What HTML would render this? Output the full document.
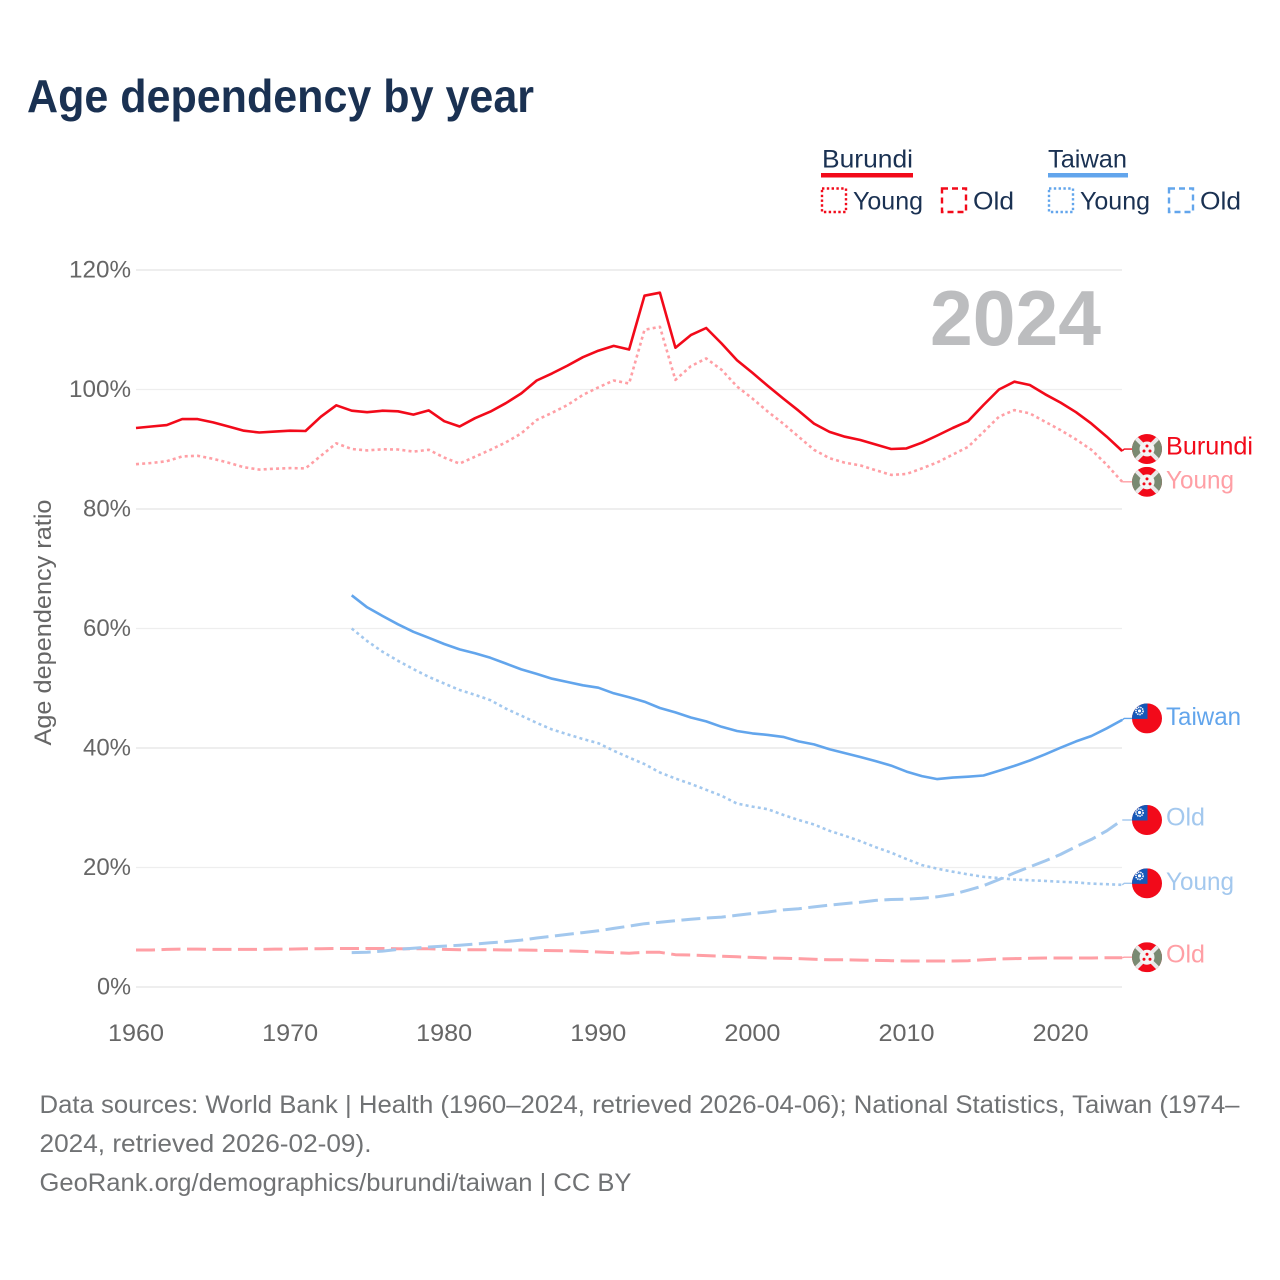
<!DOCTYPE html>
<html lang="en">
<head>
<meta charset="utf-8">
<title>Age dependency by year</title>
<style>
html,body{margin:0;padding:0;background:#fff;}
svg{display:block;}
text{font-family:"Liberation Sans",sans-serif;}
</style>
</head>
<body>
<svg id="chart" xmlns="http://www.w3.org/2000/svg" width="1280" height="1280" viewBox="0 0 1280 1280">
  <rect x="0" y="0" width="1280" height="1280" fill="#fff"/>
  <text x="27" y="112" font-size="46" font-weight="700" fill="#1a3152" textLength="507" lengthAdjust="spacingAndGlyphs">Age dependency by year</text>

  <g fill="#1a3152" font-size="25">
    <g>
      <text x="822" y="167.5" textLength="91" lengthAdjust="spacingAndGlyphs">Burundi</text>
      <rect x="821" y="173" width="92" height="4.5" fill="#f20a1a"/>
      <rect x="822" y="188.5" width="24" height="23.5" fill="none" stroke="#f20a1a" stroke-width="2.4" stroke-dasharray="2.4 2.4"/>
      <text x="853" y="209.5" textLength="70" lengthAdjust="spacingAndGlyphs">Young</text>
      <rect x="942" y="188.5" width="24" height="23.5" fill="none" stroke="#f20a1a" stroke-width="2.4" stroke-dasharray="6 4"/>
      <text x="973" y="209.5" textLength="41" lengthAdjust="spacingAndGlyphs">Old</text>
    </g>
    <g>
      <text x="1048" y="167.5" textLength="79" lengthAdjust="spacingAndGlyphs">Taiwan</text>
      <rect x="1048" y="173" width="80" height="4.5" fill="#62a5ec"/>
      <rect x="1049" y="188.5" width="24" height="23.5" fill="none" stroke="#62a5ec" stroke-width="2.4" stroke-dasharray="2.4 2.4"/>
      <text x="1080" y="209.5" textLength="70" lengthAdjust="spacingAndGlyphs">Young</text>
      <rect x="1169" y="188.5" width="24" height="23.5" fill="none" stroke="#62a5ec" stroke-width="2.4" stroke-dasharray="6 4"/>
      <text x="1200" y="209.5" textLength="41" lengthAdjust="spacingAndGlyphs">Old</text>
    </g>
  </g>

  <text transform="translate(51,622.5) rotate(-90)" text-anchor="middle" font-size="24" fill="#666" textLength="246" lengthAdjust="spacingAndGlyphs">Age dependency ratio</text>
  <g id="y-axis"></g>
  <g id="x-axis"></g>
  <text x="930" y="345" font-size="78" font-weight="700" fill="#bcbdbf" textLength="171" lengthAdjust="spacingAndGlyphs">2024</text>
  <g id="series"></g>
  <g id="end-labels"></g>

  <g font-size="25" fill="#707274">
    <text x="39.5" y="1113" textLength="1200" lengthAdjust="spacingAndGlyphs">Data sources: World Bank | Health (1960–2024, retrieved 2026-04-06); National Statistics, Taiwan (1974–</text>
    <text x="39.5" y="1152" textLength="332" lengthAdjust="spacingAndGlyphs">2024, retrieved 2026-02-09).</text>
    <text x="39.5" y="1191" textLength="592" lengthAdjust="spacingAndGlyphs">GeoRank.org/demographics/burundi/taiwan | CC BY</text>
  </g>
</svg>
<script>
const yTickValues = [0, 20, 40, 60, 80, 100, 120];
const xTickYears = [1960, 1970, 1980, 1990, 2000, 2010, 2020];
const burundiStartYear = 1960;
const taiwanStartYear = 1974;
const burundiTotal = [
  93.55, 93.8, 94.05, 95.05, 95.05, 94.5, 93.8, 93.1, 92.8, 92.95,
  93.1, 93.05, 95.45, 97.35, 96.45, 96.2, 96.45, 96.35, 95.8, 96.5,
  94.7, 93.8, 95.2, 96.3, 97.7, 99.35, 101.5, 102.7, 104, 105.4,
  106.5, 107.3, 106.7, 115.7, 116.2, 107, 109.1, 110.3, 107.7, 104.9,
  102.8, 100.6, 98.5, 96.45, 94.3, 92.9, 92.1, 91.55, 90.8, 90.05,
  90.15, 91.1, 92.3, 93.55, 94.7, 97.4, 100, 101.3, 100.75, 99.2,
  97.8, 96.2, 94.3, 92.1, 89.7
];
const burundiYoung = [
  87.5, 87.7, 88, 88.8, 88.9, 88.4, 87.75, 87, 86.6, 86.75,
  86.85, 86.8, 88.9, 91, 90.05, 89.8, 90, 89.95, 89.6, 89.9,
  88.6, 87.6, 88.75, 89.9, 91.15, 92.65, 94.9, 96.1, 97.4, 99.1,
  100.35, 101.5, 101, 110, 110.5, 101.6, 103.9, 105.2, 103.3, 100.5,
  98.5, 96.3, 94.3, 92.1, 89.9, 88.5, 87.75, 87.3, 86.5, 85.7,
  85.85, 86.8, 87.8, 89.1, 90.4, 92.9, 95.45, 96.55, 96, 94.6,
  93.2, 91.65, 89.9, 87.4, 84.55
];
const burundiOld = [
  6.2, 6.2, 6.3, 6.35, 6.35, 6.3, 6.3, 6.3, 6.3, 6.35,
  6.35, 6.4, 6.4, 6.45, 6.45, 6.45, 6.45, 6.4, 6.4, 6.4,
  6.3, 6.25, 6.25, 6.25, 6.2, 6.2, 6.15, 6.1, 6.05, 5.95,
  5.85, 5.75, 5.65, 5.8, 5.8, 5.4, 5.35, 5.25, 5.15, 5.05,
  4.95, 4.85, 4.8, 4.75, 4.65, 4.55, 4.55, 4.5, 4.45, 4.4,
  4.35, 4.35, 4.35, 4.35, 4.4, 4.55, 4.7, 4.75, 4.8, 4.85,
  4.85, 4.85, 4.85, 4.9, 4.9
];
const taiwanTotal = [
  65.55, 63.55, 62.1, 60.7, 59.45, 58.45,
  57.4, 56.5, 55.85, 55.1, 54.15, 53.15, 52.4, 51.6, 51.05, 50.5,
  50.1, 49.15, 48.5, 47.75, 46.7, 45.95, 45.1, 44.45, 43.55, 42.85,
  42.45, 42.2, 41.85, 41.1, 40.6, 39.8, 39.15, 38.5, 37.8, 37.05,
  36.05, 35.3, 34.8, 35.05, 35.2, 35.4, 36.2, 37, 37.9, 38.95,
  40.05, 41.1, 42, 43.3, 44.7
];
const taiwanYoung = [
  60, 57.9, 56.1, 54.6, 53.2, 51.9,
  50.8, 49.7, 48.9, 48, 46.6, 45.4, 44.2, 43.1, 42.3, 41.5,
  40.8, 39.55, 38.4, 37.3, 35.9, 34.9, 34, 33, 32, 30.7,
  30.2, 29.75, 28.8, 27.95, 27.2, 26.15, 25.3, 24.4, 23.4, 22.5,
  21.4, 20.4, 19.8, 19.3, 18.85, 18.45, 18.25, 18, 17.85, 17.75,
  17.6, 17.5, 17.3, 17.2, 17.1
];
const taiwanOld = [
  5.75, 5.8, 6, 6.3, 6.5, 6.7,
  6.85, 7, 7.2, 7.4, 7.6, 7.85, 8.2, 8.5, 8.8, 9.1,
  9.4, 9.8, 10.2, 10.6, 10.85, 11.1, 11.35, 11.55, 11.7, 12,
  12.3, 12.55, 12.9, 13.1, 13.4, 13.7, 13.95, 14.2, 14.5, 14.65,
  14.7, 14.85, 15.1, 15.5, 16.2, 16.95, 18, 19.1, 20.1, 21.1,
  22.2, 23.5, 24.7, 26.15, 27.95
];

const NS = 'http://www.w3.org/2000/svg';
function xScale(year) { return 136 + (year - 1960) * 15.41; }
function yScale(value) { return 987 - value * 5.975; }
function make(tag, attrs, parent) {
  const el = document.createElementNS(NS, tag);
  for (const k in attrs) el.setAttribute(k, attrs[k]);
  parent.appendChild(el);
  return el;
}

const yAxis = document.getElementById('y-axis');
yTickValues.forEach(function (v) {
  const line = make('line', {x1: 136, x2: 1122, y1: yScale(v), y2: yScale(v), stroke: '#eeeeee', 'stroke-width': v % 40 === 0 ? 2 : 1.2}, yAxis);
  
  
  const label = make('text', {x: 131, y: yScale(v) + 7.5, 'text-anchor': 'end', 'font-size': 24, fill: '#666', textLength: String(v).length * 14 + 20, lengthAdjust: 'spacingAndGlyphs'}, yAxis);
  
  
  label.textContent = v + '%';
});

const xAxis = document.getElementById('x-axis');
xTickYears.forEach(function (year) {
  const label = make('text', {x: xScale(year), y: 1041, 'text-anchor': 'middle', 'font-size': 24, fill: '#666', textLength: 56, lengthAdjust: 'spacingAndGlyphs'}, xAxis);
  
  
  label.textContent = year;
});

const DOT = '3 3.2';
const DASH = '19 6.5';
const RED = '#f20a1a', LRED = '#ff9fa5', BLUE = '#62a5ec', LBLUE = '#a3c8ee';

const seriesList = [
  {id: 'burundi-old', values: burundiOld, start: burundiStartYear, color: LRED, dash: DASH, width: 3, label: 'Old', flag: 'burundi', nudge: -0.5, tw: 39, textDy: 5.5},
  {id: 'taiwan-old', values: taiwanOld, start: taiwanStartYear, color: LBLUE, dash: DASH, width: 3, label: 'Old', flag: 'taiwan', nudge: 0, tw: 39, textDy: 5.5},
  {id: 'burundi-young', values: burundiYoung, start: burundiStartYear, color: LRED, dash: DOT, width: 2.6, label: 'Young', flag: 'burundi', nudge: 0, tw: 68, textDy: 6.5},
  {id: 'taiwan-young', values: taiwanYoung, start: taiwanStartYear, color: LBLUE, dash: DOT, width: 2.6, label: 'Young', flag: 'taiwan', nudge: -1.5, tw: 68, textDy: 6.5},
  {id: 'taiwan-total', values: taiwanTotal, start: taiwanStartYear, color: BLUE, dash: '', width: 2.6, label: 'Taiwan', flag: 'taiwan', nudge: -1.5, tw: 75, textDy: 6.5},
  {id: 'burundi-total', values: burundiTotal, start: burundiStartYear, color: RED, dash: '', width: 2.6, label: 'Burundi', flag: 'burundi', nudge: -2, tw: 87, textDy: 5.5}
];

const seriesGroup = document.getElementById('series');
const labelGroup = document.getElementById('end-labels');

function drawBurundiFlag(cx, cy, parent) {
  const id = 'clip' + Math.round(cy);
  const defs = make('clipPath', {id: id}, parent);
  make('circle', {cx: cx, cy: cy, r: 15}, defs);
  const g = make('g', {'clip-path': 'url(#' + id + ')'}, parent);
  
  
  make('rect', {x: cx - 15, y: cy - 15, width: 30, height: 30, fill: '#f20a1a'}, g);
  make('path', {d: 'M' + (cx - 15) + ' ' + (cy - 15) + 'L' + cx + ' ' + cy + 'L' + (cx - 15) + ' ' + (cy + 15) + 'Z', fill: '#7a8a72'}, g);
  make('path', {d: 'M' + (cx + 15) + ' ' + (cy - 15) + 'L' + cx + ' ' + cy + 'L' + (cx + 15) + ' ' + (cy + 15) + 'Z', fill: '#7a8a72'}, g);
  make('line', {x1: cx - 15, y1: cy - 15, x2: cx + 15, y2: cy + 15, stroke: '#e9e9e9', 'stroke-width': 4}, g);
  make('line', {x1: cx + 15, y1: cy - 15, x2: cx - 15, y2: cy + 15, stroke: '#e9e9e9', 'stroke-width': 4}, g);
  make('circle', {cx: cx, cy: cy, r: 7.5, fill: '#f4f4f4'}, g);
  make('circle', {cx: cx, cy: cy - 3, r: 1.5, fill: '#f20a1a'}, g);
  make('circle', {cx: cx - 3, cy: cy + 2, r: 1.5, fill: '#f20a1a'}, g);
  make('circle', {cx: cx + 3, cy: cy + 2, r: 1.5, fill: '#f20a1a'}, g);
}

function drawTaiwanFlag(cx, cy, parent) {
  const id = 'clip' + Math.round(cy);
  const defs = make('clipPath', {id: id}, parent);
  make('circle', {cx: cx, cy: cy, r: 15}, defs);
  const g = make('g', {'clip-path': 'url(#' + id + ')'}, parent);
  
  
  make('rect', {x: cx - 15, y: cy - 15, width: 30, height: 30, fill: '#f20a1a'}, g);
  make('rect', {x: cx - 15, y: cy - 15, width: 15.5, height: 15.5, fill: '#1558b8'}, g);
  make('circle', {cx: cx - 7.5, cy: cy - 7.5, r: 3.6, fill: 'none', stroke: '#fff', 'stroke-width': 1.6, 'stroke-dasharray': '1.4 0.8'}, g);
  make('circle', {cx: cx - 7.5, cy: cy - 7.5, r: 1.6, fill: '#fff'}, g);
}

seriesList.forEach(function (s) {
  const pts = s.values.map(function (v, i) {
    return xScale(s.start + i).toFixed(1) + ',' + yScale(v).toFixed(1);
  });
  const path = make('path', {d: 'M' + pts.join('L'), fill: 'none', stroke: s.color, 'stroke-width': s.width, 'stroke-linejoin': 'round'}, seriesGroup);
  if (s.dash) path.setAttribute('stroke-dasharray', s.dash);
  
  

  const last = s.values[s.values.length - 1];
  const endX = xScale(s.start + s.values.length - 1);
  const endY = yScale(last);
  const flagY = endY + s.nudge;
  const conn = make('path', {d: 'M' + endX + ' ' + endY + 'L' + (endX + 2) + ' ' + flagY + 'L1133 ' + flagY, fill: 'none', stroke: s.color, 'stroke-width': 1.4}, labelGroup);
  
  
  if (s.flag === 'burundi') drawBurundiFlag(1147, flagY, labelGroup);
  else drawTaiwanFlag(1147, flagY, labelGroup);
  const text = make('text', {x: 1166, y: flagY + s.textDy, 'font-size': 25, fill: s.color, textLength: s.tw, lengthAdjust: 'spacingAndGlyphs'}, labelGroup);
  
  
  text.textContent = s.label;
});
</script>
</body>
</html>
